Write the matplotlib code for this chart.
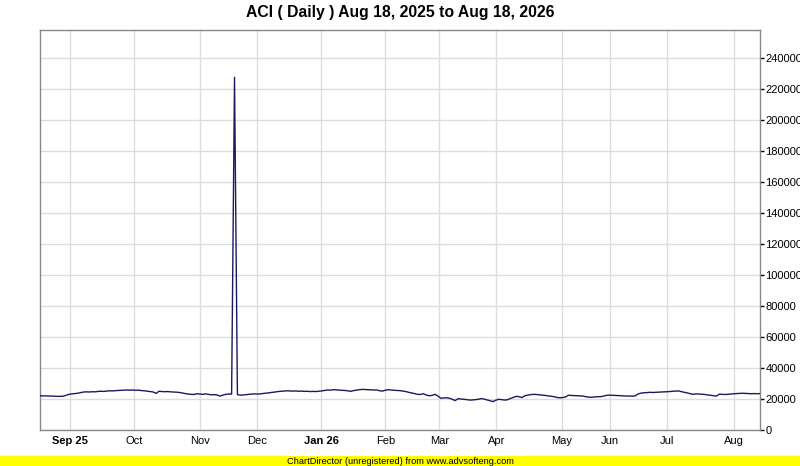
import matplotlib
matplotlib.use("Agg")
import matplotlib.pyplot as plt
from matplotlib.ticker import FixedLocator

title = "ACI ( Daily ) Aug 18, 2025 to Aug 18, 2026"
footer = "ChartDirector (unregistered) from www.advsofteng.com"

values = [
    22100, 22000, 22000, 21900, 21900, 21800, 21700, 21700, 21800, 22400,
    23000, 23300, 23500, 23700, 24100, 24500, 24600, 24500, 24700, 24600,
    24900, 25000, 24900, 25100, 25300, 25200, 25400, 25500, 25600, 25700,
    25800, 25700, 25800, 25600, 25700, 25400, 25300, 25000, 24800, 24500,
    23600, 25000, 24800, 24700, 24800, 24600, 24500, 24400, 24200, 23900,
    23500, 23200, 23000, 22900, 23400, 23200, 23000, 23300, 23000, 22700,
    22800, 22600, 21900, 22500, 23000, 23200, 23200, 227500, 22800, 22500,
    22600, 22800, 23000, 23200, 23300, 23200, 23300, 23600, 23800, 24000,
    24300, 24500, 24800, 25000, 25100, 25300, 25200, 25100, 25200, 25000,
    25100, 24900, 25000, 24800, 24900, 24800, 25000, 25200, 25500, 25800,
    25700, 26000, 25900, 25700, 25600, 25500, 25300, 24900, 25400, 25700,
    26000, 26200, 26100, 26000, 25900, 25800, 25800, 25300, 25100, 25700,
    26000, 25800, 25600, 25500, 25400, 25100, 24800, 24300, 23900, 23500,
    23000, 22900, 23400, 22600, 22100, 22300, 23000, 22000, 20500, 20700,
    20800, 20500, 19800, 19000, 20200, 20000, 19800, 19600, 19300, 19400,
    19600, 19800, 20300, 19900, 19400, 18900, 18300, 19200, 19800, 19600,
    19300, 19500, 20300, 21000, 21700, 21500, 20900, 22100, 22500, 22800,
    23000, 22900, 22700, 22500, 22300, 22000, 21800, 21500, 21000, 20800,
    20900, 21300, 22400, 22300, 22200, 22100, 22000, 21900, 21500, 21200,
    21100, 21300, 21500, 21500, 21800, 22300, 22500, 22400, 22300, 22200,
    22100, 22000, 21900, 21900, 21800, 22000, 23200, 23800, 24000, 24100,
    24300, 24200, 24300, 24400, 24500, 24600, 24700, 24800, 25000, 25100,
    25200, 24700, 24300, 23900, 23400, 23000, 23300, 23200, 23100, 22900,
    22600, 22400, 22100, 21900, 23100, 23000, 22900, 23000, 23200, 23400,
    23500, 23600, 23700, 23600, 23500, 23400, 23500, 23400, 23500,
]

x_tick_pos = [10.3, 32.4, 55.2, 74.8, 96.9, 119.0, 137.6, 157.2, 179.7, 196.2, 215.9, 239.0]
x_tick_labels = ["Sep 25", "Oct", "Nov", "Dec", "Jan 26", "Feb", "Mar", "Apr", "May", "Jun", "Jul", "Aug"]
bold_labels = ["Sep 25", "Jan 26"]
y_ticks = [0, 20000, 40000, 60000, 80000, 100000, 120000, 140000, 160000,
           180000, 200000, 220000, 240000]
y_max = 258000

plt.rcParams['font.family'] = ['Liberation Sans', 'DejaVu Sans']

fig = plt.figure(figsize=(8.0, 4.66), dpi=100)
fig.patch.set_facecolor("white")
ax = fig.add_axes([40/800, 36/466, 720/800, 400/466])

xs = list(range(len(values)))
ax.plot(xs, values, color="#1a1a5e", linewidth=1.0, zorder=3)

ax.set_xlim(0, len(values) - 1)
ax.set_ylim(0, y_max)

ax.xaxis.set_major_locator(FixedLocator(x_tick_pos))
ax.set_xticklabels(x_tick_labels)
for lbl in ax.get_xticklabels():
    if lbl.get_text() in bold_labels:
        lbl.set_fontweight("bold")
ax.tick_params(axis="x", length=0, pad=4, labelsize=8, colors="#000000")

ax.yaxis.tick_right()
ax.yaxis.set_major_locator(FixedLocator(y_ticks))
ax.set_yticklabels([str(v) for v in y_ticks])
ax.tick_params(axis="y", direction="out", length=3, width=1, pad=1,
               labelsize=8, color="#000000", labelcolor="#000000")

ax.grid(True, color="#dddddd", linewidth=1.0, zorder=0)
ax.set_axisbelow(True)
for side in ["left", "top", "right", "bottom"]:
    ax.spines[side].set_color("#888888")
    ax.spines[side].set_linewidth(1.0)

fig.text(0.5, 1 - 12/466, title, ha="center", va="center",
         fontsize=11.3, fontweight="bold", color="#000000")

fig.patches.append(plt.Rectangle((0, 0), 1, 10/466, transform=fig.transFigure,
                                 facecolor="#ffff00", edgecolor="none", zorder=0))
fig.text(0.5, 5/466, footer, ha="center", va="center", fontsize=6.7, color="#000000")

fig.savefig("out.png", dpi=100)
